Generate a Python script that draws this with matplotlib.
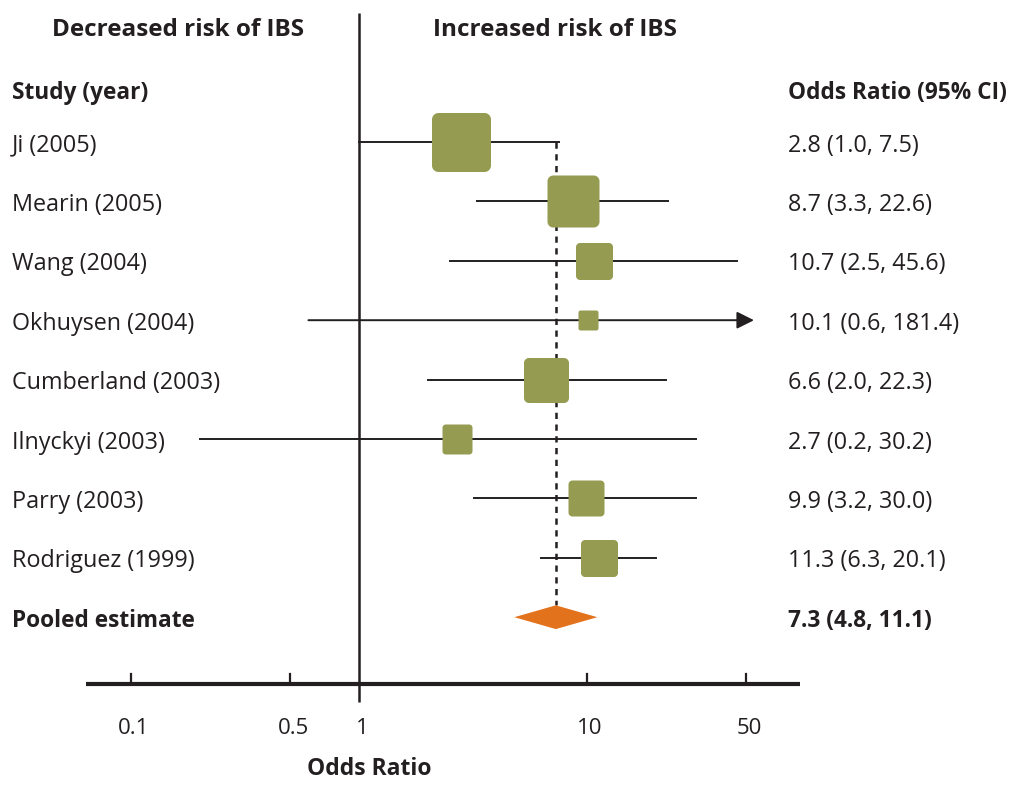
import numpy as np
import matplotlib
matplotlib.use("Agg")
import matplotlib.pyplot as plt
from matplotlib.path import Path

plt.rcParams['font.family'] = ['Open Sans', 'DejaVu Sans']

# data
studies = ["Ji (2005)", "Mearin (2005)", "Wang (2004)", "Okhuysen (2004)",
           "Cumberland (2003)", "Ilnyckyi (2003)", "Parry (2003)", "Rodriguez (1999)"]
odds = [2.8, 8.7, 10.7, 10.1, 6.6, 2.7, 9.9, 11.3]
ci_low = [1.0, 3.3, 2.5, 0.6, 2.0, 0.2, 3.2, 6.3]
ci_high = [7.5, 22.6, 45.6, 181.4, 22.3, 30.2, 30.0, 20.1]
weights = [59, 52, 37, 20, 45, 30, 36, 37]   # box size (px)

pooled_label = "Pooled estimate"
pooled = 7.3
pooled_low = 4.8
pooled_high = 11.1

tick_vals = [0.1, 0.5, 1, 10, 50]
tick_labels = ["0.1", "0.5", "1", "10", "50"]

dark = "#231f20"
box_col = "#959c51"
diamond_col = "#e3721d"

def rounded_square(r=0.11, n=10):
    h = 0.5
    pts = []
    corners = [(h - r, h - r, 0), (-h + r, h - r, 90), (-h + r, -h + r, 180), (h - r, -h + r, 270)]
    for cx, cy, a0 in corners:
        t = np.radians(np.linspace(a0, a0 + 90, n))
        pts += list(zip(cx + r * np.cos(t), cy + r * np.sin(t)))
    pts.append(pts[0])
    return Path(pts, closed=True)

fig = plt.figure(figsize=(10.18, 7.85), dpi=100)
ax = fig.add_axes([0, 0, 1, 1])
ax.set_xscale('log')
# 1 at px 359, ~228 px per decade
ax.set_xlim(10 ** (-359 / 228), 10 ** ((1018 - 359) / 228))
# row 0 at px 142, rows 59.4 px apart
ax.set_ylim((785 - 142) / 59.4, -142 / 59.4)
ax.axis('off')

rows = np.arange(len(studies))
pooled_row = len(studies)
axis_row = 9.125
arrow_cap = 50
arrow_tip = 54
txt_off = 0.06

# line of no effect
ax.plot([1, 1], [-2.17, 9.43], color=dark, lw=1.8, solid_capstyle='butt', zorder=3)

# pooled dashed line
ax.plot([pooled, pooled], [0, pooled_row - 0.2], color=dark, lw=1.8,
        linestyle=(0, (2.5, 2.2)), zorder=1)

# confidence intervals
for r, lo, hi in zip(rows, ci_low, ci_high):
    if hi > arrow_cap:
        ax.annotate('', xy=(arrow_tip, r), xytext=(lo, r),
                    arrowprops=dict(arrowstyle='-|>', color=dark, lw=1.4,
                                    mutation_scale=26, shrinkA=0, shrinkB=0))
    else:
        ax.plot([lo, hi], [r, r], color=dark, lw=1.4, zorder=2)

# study boxes
marker = rounded_square()
for r, o, w in zip(rows, odds, weights):
    ax.plot(o, r, marker=marker, markersize=w * 0.72, color=box_col,
            markeredgewidth=0, linestyle='', zorder=4)

# pooled diamond
ax.fill([pooled_low, pooled, pooled_high, pooled],
        [pooled_row, pooled_row - 0.2, pooled_row, pooled_row + 0.2],
        color=diamond_col, lw=0, zorder=4)

# x axis
ax.plot([0.0635, 85.9], [axis_row, axis_row], color=dark, lw=3, solid_capstyle='butt', zorder=3)
for v, lab in zip(tick_vals, tick_labels):
    if v != 1:
        ax.plot([v, v], [axis_row, axis_row - 0.17], color=dark, lw=1.6, zorder=3)
    ax.text(v * 1.03, 9.88, lab, ha='center', va='center', fontsize=16, color=dark)
ax.text(10 ** ((369 - 359) / 228), 10.56, "Odds Ratio", ha='center', va='center',
        fontsize=16.5, fontweight='bold', color=dark)

# text columns
tr = ax.get_yaxis_transform()
W = 1018
for r, name, o, lo, hi in zip(rows, studies, odds, ci_low, ci_high):
    ax.text(12 / W, r + txt_off, name, transform=tr, ha='left', va='center',
            fontsize=16.8, color=dark)
    ax.text(788 / W, r + txt_off, f"{o:.1f} ({lo:.1f}, {hi:.1f})", transform=tr, ha='left',
            va='center', fontsize=16.8, color=dark)
ax.text(12 / W, pooled_row + txt_off, pooled_label, transform=tr, ha='left', va='center',
        fontsize=16.3, fontweight='bold', color=dark)
ax.text(788 / W, pooled_row + txt_off, f"{pooled:.1f} ({pooled_low:.1f}, {pooled_high:.1f})",
        transform=tr, ha='left', va='center', fontsize=16.3, fontweight='bold', color=dark)

ax.text(12 / W, -0.892 + txt_off, "Study (year)", transform=tr, ha='left', va='center',
        fontsize=16.3, fontweight='bold', color=dark)
ax.text(788 / W, -0.892 + txt_off, "Odds Ratio (95% CI)", transform=tr, ha='left', va='center',
        fontsize=16.3, fontweight='bold', color=dark)
ax.text(178 / W, -1.886, "Decreased risk of IBS", transform=tr, ha='center', va='center',
        fontsize=17.5, fontweight='bold', color=dark)
ax.text(555 / W, -1.886, "Increased risk of IBS", transform=tr, ha='center', va='center',
        fontsize=17.5, fontweight='bold', color=dark)

fig.savefig("out.png", dpi=100)
